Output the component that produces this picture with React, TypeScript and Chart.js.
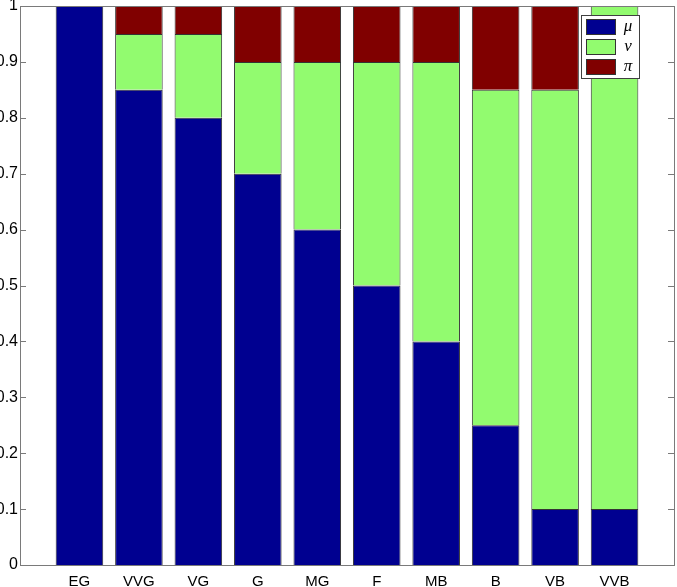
import React, { useEffect, useRef } from "react";
import { Chart, registerables } from "chart.js";

Chart.register(...registerables);

const categories = ["EG", "VVG", "VG", "G", "MG", "F", "MB", "B", "VB", "VVB"];
const muValues = [1.0, 0.85, 0.8, 0.7, 0.6, 0.5, 0.4, 0.25, 0.1, 0.1];
const nuValues = [0.0, 0.1, 0.15, 0.2, 0.3, 0.4, 0.5, 0.6, 0.75, 0.9];
const piValues = [0.0, 0.05, 0.05, 0.1, 0.1, 0.1, 0.1, 0.15, 0.15, 0.0];
const seriesLabels = ["\u03bc", "\u03bd", "\u03c0"];
const yTicks = [0, 0.1, 0.2, 0.3, 0.4, 0.5, 0.6, 0.7, 0.8, 0.9, 1];

const COLORS = ["#000090", "#92fb6f", "#800000"];
const AXIS = "#7a7a7a";

const frame = {
  id: "frame",
  afterDatasetsDraw(chart: any) {
    const { ctx, chartArea: a } = chart;
    const ys = chart.scales.y;
    ctx.save();
    ctx.strokeStyle = AXIS;
    ctx.lineWidth = 1;
    ctx.strokeRect(Math.round(a.left) + 0.5, Math.round(a.top) + 0.5, Math.round(a.right - a.left), Math.round(a.bottom - a.top));
    ctx.beginPath();
    for (const v of yTicks) {
      const py = Math.round(ys.getPixelForValue(v)) + 0.5;
      ctx.moveTo(a.left, py);
      ctx.lineTo(a.left + 6, py);
      ctx.moveTo(a.right, py);
      ctx.lineTo(a.right - 6, py);
    }
    ctx.stroke();
    // legend
    const lx = 581, ly = 15, lw = 58, lh = 63;
    ctx.fillStyle = "#ffffff";
    ctx.fillRect(lx, ly, lw, lh);
    ctx.strokeStyle = "#404040";
    ctx.strokeRect(lx + 0.5, ly + 0.5, lw, lh);
    chart.data.datasets.forEach((ds: any, i: number) => {
      const sy = ly + 4 + i * 20;
      ctx.fillStyle = ds.backgroundColor;
      ctx.fillRect(lx + 5, sy, 29, 15);
      ctx.strokeStyle = "#333";
      ctx.strokeRect(lx + 5.5, sy + 0.5, 29, 15);
      ctx.fillStyle = "#000";
      ctx.font = 'italic 17px "Liberation Serif"';
      ctx.textAlign = "center";
      ctx.textBaseline = "middle";
      ctx.fillText(ds.label, lx + 47, sy + 8);
    });
    ctx.restore();
  },
};

export default function App() {
  const ref = useRef<HTMLCanvasElement>(null);
  useEffect(() => {
    const mk = (vals: number[]) => vals.map((v, i) => ({ x: i + 1, y: v }));
    const chart = new Chart(ref.current!, {
      type: "bar",
      data: {
        datasets: [muValues, nuValues, piValues].map((vals, i) => ({
          label: seriesLabels[i],
          data: mk(vals),
          backgroundColor: COLORS[i],
          borderColor: "#333333",
          borderWidth: 1,
          categoryPercentage: 1,
          barPercentage: 0.8,
        })),
      },
      options: {
        responsive: false,
        animation: false,
        layout: { padding: { top: 6, right: 3, left: 0, bottom: 0 } },
        plugins: { legend: { display: false }, tooltip: { enabled: false } },
        scales: {
          x: {
            type: "linear",
            stacked: true,
            offset: false,
            min: 0,
            max: 11,
            grid: { display: false, drawTicks: false },
            border: { display: false },
            ticks: {
              stepSize: 1,
              autoSkip: false,
              maxRotation: 0,
              padding: 8,
              color: "#000",
              font: { family: '"Liberation Sans"', size: 15 },
              callback: (v: any) => (v >= 1 && v <= categories.length ? categories[v - 1] : ""),
            },
            afterFit: (s: any) => {
              s.height = 22;
              s.paddingLeft = 0;
              s.paddingRight = 0;
            },
          },
          y: {
            stacked: true,
            min: 0,
            max: 1,
            grid: { display: false, drawTicks: false },
            border: { display: false },
            ticks: {
              stepSize: 0.1,
              padding: 2,
              color: "#000",
              font: { family: '"Liberation Sans"', size: 16 },
              callback: (v: any) => String(Math.round(v * 10) / 10),
            },
            afterFit: (s: any) => {
              s.width = 20;
              s.paddingTop = 0;
              s.paddingBottom = 0;
            },
          },
        },
      },
      plugins: [frame],
    } as any);
    return () => chart.destroy();
  }, []);
  return (
    <div style={{ position: "fixed", left: 0, top: 0, width: 677, height: 587, background: "#fff" }}>
      <canvas ref={ref} width={677} height={587} style={{ display: "block" }} />
    </div>
  );
}
